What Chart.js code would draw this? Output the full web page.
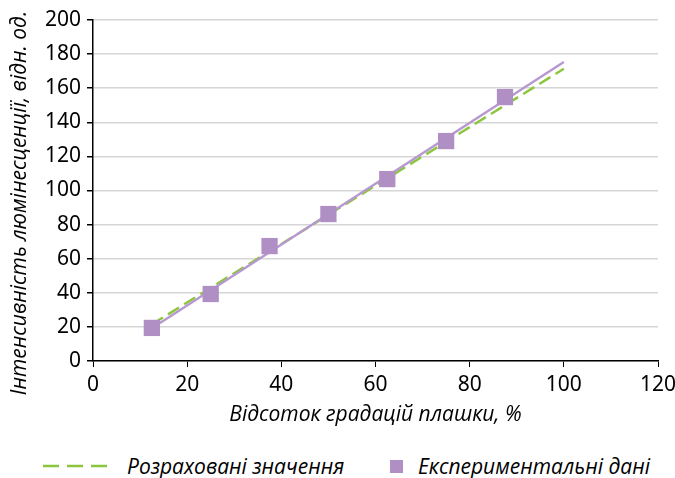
<!DOCTYPE html>
<html>
<head>
<meta charset="utf-8">
<script src="https://cdn.jsdelivr.net/npm/chart.js@4"></script>
<style>
  body { margin: 0; background: #fff; }
  #wrap { position: relative; width: 675px; height: 478px; }
  #chart { position: absolute; left: 0; top: 0; }
  #legend { position: absolute; left: 0; top: 452px; width: 675px; height: 28px;
    font-family: "Open Sans", sans-serif; font-style: italic; font-size: 21px; color: #000; }
  .item { position: absolute; top: 0; display: flex; align-items: center; height: 28px; white-space: nowrap; }
</style>
</head>
<body>
<div id="wrap">
  <canvas id="chart" width="675" height="440"></canvas>
  <div id="legend">
    <div class="item" style="left:43px">
      <svg width="66" height="6"><line x1="0" y1="3" x2="66" y2="3" stroke="#8cc63e" stroke-width="2.5" stroke-dasharray="16,8"/></svg>
      <span style="margin-left:18px">Розраховані значення</span>
    </div>
    <div class="item" style="left:390px">
      <span style="display:inline-block;width:13px;height:13px;background:#b08fc5"></span>
      <span style="margin-left:15px">Експериментальні дані</span>
    </div>
  </div>
</div>
<script>
// values
const gradations = [12.5, 25, 37.5, 50, 62.5, 75, 87.5];
const measured = [19.4, 39.3, 67.4, 86.2, 106.7, 129, 154.8];
const calcX = [12.5, 100];
const calcY = [21.5, 171.4];
const fitX = [12.5, 100];
const fitY = [19.2, 175.4];

const xTitle = "Відсоток градацій плашки, %";
const yTitle = "Інтенсивність люмінесценції, відн. од.";

const pts = (xs, ys) => xs.map((x, i) => ({ x: x, y: ys[i] }));

const tickFont = { family: "Noto Sans", size: 21 };
const titleFont = { family: "Open Sans", size: 21, style: "italic" };

// y title sits a bit below the plot centre in the original, so draw it by hand
const yTitlePlugin = {
  id: "yTitle",
  afterDraw(chart) {
    const ctx = chart.ctx;
    ctx.save();
    ctx.translate(20, 203);
    ctx.rotate(-Math.PI / 2);
    ctx.font = "italic 21px 'Open Sans'";
    ctx.fillStyle = "#000";
    ctx.textAlign = "center";
    ctx.textBaseline = "middle";
    ctx.fillText(yTitle, 0, 0);
    ctx.restore();
  }
};

new Chart(document.getElementById("chart"), {
  type: "scatter",
  data: {
    datasets: [
      {
        label: "Експериментальні дані",
        data: pts(gradations, measured),
        pointStyle: "rect",
        pointRadius: 11.5,
        pointHoverRadius: 11.5,
        backgroundColor: "#b08fc5",
        borderWidth: 0,
        order: 0
      },
      {
        label: "fit",
        data: pts(fitX, fitY),
        showLine: true,
        borderColor: "#b799d0",
        borderWidth: 2.5,
        pointRadius: 0,
        order: 1
      },
      {
        label: "Розраховані значення",
        data: pts(calcX, calcY),
        showLine: true,
        borderColor: "#8cc63e",
        borderWidth: 2.5,
        borderDash: [13, 6],
        pointRadius: 0,
        order: 2
      }
    ]
  },
  options: {
    responsive: false,
    animation: false,
    layout: { padding: { left: 0, right: 0, top: 20, bottom: 0 } },
    plugins: { legend: { display: false }, tooltip: { enabled: false } },
    scales: {
      x: {
        min: 0, max: 120,
        ticks: { stepSize: 20, color: "#000", font: tickFont, padding: 5, maxRotation: 0 },
        grid: { drawOnChartArea: false, tickLength: 6, tickColor: "#000" },
        border: { color: "#000", width: 1.5 },
        title: { display: true, text: xTitle, color: "#000", font: titleFont, padding: { top: 0, bottom: 12 } },
        afterFit: s => { s.height = 79; s.paddingLeft = 0; s.paddingRight = 17; }
      },
      y: {
        min: 0, max: 200,
        ticks: { stepSize: 20, color: "#000", font: tickFont, padding: 6 },
        grid: { color: "#d6d6d6", lineWidth: 1.5, tickLength: 6, tickColor: "#000" },
        border: { color: "#000", width: 1.5 },
        afterFit: s => { s.width = 93; }
      }
    }
  },
  plugins: [yTitlePlugin]
});
</script>
</body>
</html>
